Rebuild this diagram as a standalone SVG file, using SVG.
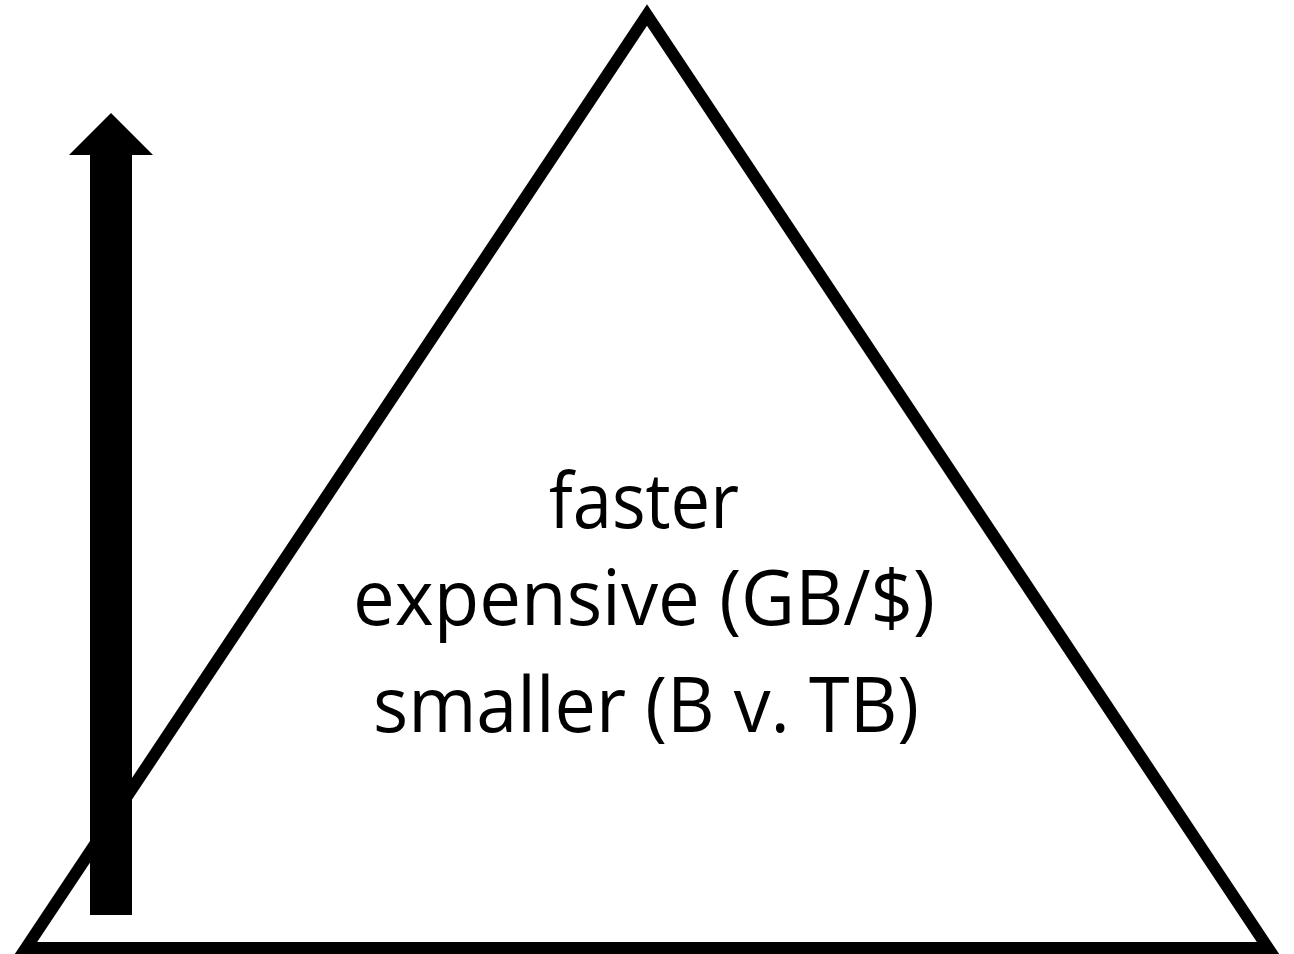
<svg xmlns="http://www.w3.org/2000/svg" width="1294" height="954" viewBox="0 0 1294 954">
<style>
.lbl { font-family: "Open Sans", "Noto Sans", "Liberation Sans", sans-serif; font-size: 76px; fill: #000; text-anchor: middle; }
</style>
<rect width="1294" height="954" fill="#fff"/>
<g id="pyramid">
<polygon points="647,15 26,948 1268,948" fill="none" stroke="#000" stroke-width="12" stroke-linejoin="miter" stroke-miterlimit="10"/>
<text class="lbl" x="644" y="528" textLength="190" lengthAdjust="spacingAndGlyphs">faster</text>
<text class="lbl" x="644" y="625" textLength="582" lengthAdjust="spacingAndGlyphs">expensive (GB/$)</text>
<text class="lbl" x="646" y="732" textLength="546" lengthAdjust="spacingAndGlyphs">smaller (B v. TB)</text>
</g>
<g id="connectors">
<polygon id="arrow" points="111,113 153,155 132,155 132,915 90,915 90,155 69,155" fill="#000"/>
</g>
</svg>
